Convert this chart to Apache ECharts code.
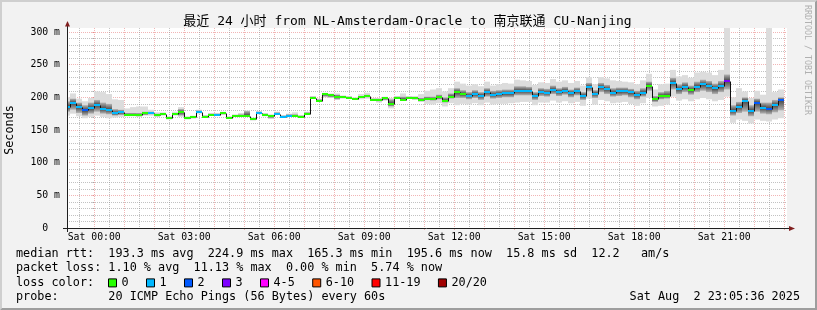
<!DOCTYPE html>
<html><head><meta charset="utf-8">
<script src="https://cdn.jsdelivr.net/npm/echarts@6/dist/echarts.min.js"></script>
<style>html,body{margin:0;padding:0;background:#f2f2f2}#c{width:817px;height:310px}</style>
</head><body><div id="c"></div>
<script>
// ---------- data (12-minute consolidated steps, first step starts 23:00 on the previous day) ----------
const lossNames = ['0', '1', '2', '3', '4-5', '6-10', '11-19', '20/20'];
const lossColors = ['#26ff00', '#00b8ff', '#0059ff', '#7e00ff', '#ff00ff', '#ff5500', '#ff0000', '#a10000'];
const xLabelHours = [0, 3, 6, 9, 12, 15, 18, 21];
const majorGridHours = [0,1,2,3,4,5,6,7,8,9,10,11,12,13,14,15,16,17,18,19,20,21,22,23];
const minorGridHours = [-0.5,0.5,1.5,2.5,3.5,4.5,5.5,6.5,7.5,8.5,9.5,10.5,11.5,12.5,13.5,14.5,15.5,16.5,17.5,18.5,19.5,20.5,21.5,22.5];
const yTickLabels = ['0  ', '50 m', '100 m', '150 m', '200 m', '250 m', '300 m'];

const median = [185.5,191.5,185.5,180,183.5,188.5,182.5,181,175.5,177,
173.5,173.5,172.5,175.5,175.5,172.5,174.5,168,174,177.5,
168,169.5,178,170.5,173.5,173.5,175.5,169,172,172,
172,166.5,176.5,173,172,175,170.5,172,172,170.5,
175,199.5,195,205,203.5,201,200.5,199.5,197.5,200.5,
202.5,196.5,196.5,198.5,190,199.5,196.5,199.5,198.5,196,
198,197,200,195,201,208,205,202.5,205,202.5,
208,204,205,206,206,210,210,210,202.5,208.5,
207,211.8,208.7,210.2,206.6,209.2,202.6,216.3,205.6,215.8,
212.8,207.2,209.2,209.2,207.7,203.6,207.2,217.9,197,202.6,
202.6,222.5,212.8,216.4,211.3,216.4,220,217.4,213.8,217.4,
225.5,179.6,185.7,195,179.6,192,184.2,182.7,188.3,196];

const loss = [1,1,1,2,1,1,1,1,1,1,
0,0,0,0,1,0,0,0,0,0,
0,0,1,0,0,1,0,0,0,0,
0,0,1,0,0,1,1,1,0,0,
0,0,0,0,0,0,0,0,0,0,
0,0,0,0,0,0,0,0,0,0,
0,0,0,0,0,0,0,1,1,1,
1,1,1,1,1,1,1,1,1,1,
1,1,1,1,1,1,1,1,1,1,
1,1,1,1,1,1,1,0,0,0,
0,1,1,1,0,1,1,1,1,1,
3,1,1,1,1,2,1,2,1,2];

const smokeMin = [172,175,171,168,170,172,170,168,169,170,
171,171,170,172,172,170,172,166,172,170,
166,168,175,169,172,172,173,167,170,170,
170,165,174,171,167,173,169,170,170,169,
173,198,193,200,199,196,198,198,196,197,
198,195,192,195,183,198,195,198,196,193,
190,189,191,186,191,188,190,189,191,188,
192,189,190,190,191,192,193,193,188,192,
192,195,192,194,191,193,187,198,189,196,
194,191,192,193,190,187,191,199,186,187,
189,201,195,197,194,197,199,197,194,196,
201,161,166,164,160,166,164,163,166,168];

const smokeLo = [178,181,176,172,175,178,175,174,172,173,
172,172,171,173,174,171,173,167,173,172,
167,168,176,169,172,172,174,168,171,171,
171,165,175,172,168,174,169,171,171,169,
174,198,194,201,200,197,199,198,196,199,
200,195,194,196,186,198,195,198,197,194,
196,195,197,192,198,199,199,197,199,196,
201,198,199,200,200,203,203,203,196,202,
201,205,202,204,200,203,196,209,199,208,
205,201,202,203,200,197,201,210,193,197,
198,212,205,208,204,208,210,208,205,208,
212,172,176,178,171,178,175,174,177,180];

const smokeHi = [194,198,192,188,192,196,192,190,182,181,
176,176,176,178,178,175,176,170,176,182,
170,171,180,172,175,175,177,170,173,174,
179,168,178,175,173,177,172,174,174,172,
177,201,197,206,205,204,202,201,199,202,
204,198,198,200,197,201,201,201,200,199,
201,201,204,200,206,214,211,208,211,208,
214,210,211,212,212,217,217,216,208,214,
213,218,214,216,212,215,208,222,211,222,
219,214,215,215,213,210,214,224,202,208,
210,230,220,223,218,224,227,225,221,225,
235,188,193,200,188,198,192,192,196,200];

const smokeMax = [200,206,198,194,199,209,208,205,197,196,
183,185,186,186,181,177,177,171,178,185,
171,172,181,173,176,176,178,171,174,176,
180,169,179,176,174,178,173,175,177,173,
178,202,198,207,206,206,203,202,200,205,
207,199,199,201,199,202,206,202,202,205,
210,212,214,209,214,224,221,218,220,217,
224,218,220,222,221,227,226,225,219,223,
222,228,224,226,222,225,218,231,220,231,
229,226,225,224,223,220,226,236,212,220,
221,242,232,234,230,238,239,238,234,242,
306,200,214,209,199,210,204,306,208,212];

const statLines = [
  'median rtt:  193.3 ms avg  224.9 ms max  165.3 ms min  195.6 ms now  15.8 ms sd  12.2   am/s',
  'packet loss: 1.10 % avg  11.13 % max  0.00 % min  5.74 % now',
  'loss color:',
  'probe:       20 ICMP Echo Pings (56 Bytes) every 60s'
];
const titleText = '最近 24 小时 from NL-Amsterdam-Oracle to 南京联通 CU-Nanjing';
const dateText = 'Sat Aug  2 23:05:36 2025';
const watermark = 'RRDTOOL / TOBI OETIKER';

// ---------- layout / style ----------
const MONO = '"DejaVu Sans Mono", "Noto Sans CJK SC", monospace';
const GL = 67, GT = 32, GW = 720, GH = 196;
const CANVAS_TOP_VALUE = 306.1;
const X_MIN = -(54 + 24 / 60) / 60;          // 23:05:36 previous day
const X_MAX = 23 + (5 + 36 / 60) / 60;       // 23:05:36
const STEP_H = 12 / 60;
const FIRST_STEP_H = -1;
const GRID_COL = 'rgba(143,143,143,0.55)';
const MGRID_COL = 'rgba(222,79,79,0.42)';
const AXIS_COL = '#1f1f1f';
const ARROW_COL = '#801f1f';

function stepStart(i) { return FIRST_STEP_H + i * STEP_H; }
function pad2(n) { return (n < 10 ? '0' : '') + n; }

function xSpan(api, cs, t) {
  let xa = Math.round(api.coord([t, 0])[0]);
  let xb = Math.round(api.coord([t + STEP_H, 0])[0]);
  xa = Math.max(xa, cs.x); xb = Math.min(xb, cs.x + cs.width);
  return [xa, xb];
}

const smokeData = median.map((m, i) => [stepStart(i), smokeMin[i], smokeLo[i], smokeHi[i], smokeMax[i], m]);
const stepData = median.map((m, i) => [stepStart(i), m, i + 1 < median.length ? median[i + 1] : m]);

function renderSmoke(params, api) {
  const cs = params.coordSys;
  const t = api.value(0);
  const [xa, xb] = xSpan(api, cs, t);
  if (xb <= xa) return null;
  const yMin = api.coord([t, api.value(1)])[1];
  const yLo = api.coord([t, api.value(2)])[1];
  const yHi = api.coord([t, api.value(3)])[1];
  const yMax = api.coord([t, api.value(4)])[1];
  const yMed = api.coord([t, api.value(5)])[1];
  const children = [{ type: 'rect', shape: { x: xa, y: yMax, width: xb - xa, height: yMin - yMax }, style: { fill: '#dcdcdc' } }];
  const h = yLo - yHi;
  if (h > 0.5) {
    const off = Math.min(1, Math.max(0, (yMed - yHi) / h));
    children.push({ type: 'rect', shape: { x: xa, y: yHi, width: xb - xa, height: h },
      style: { fill: new echarts.graphic.LinearGradient(0, 0, 0, 1, [
        { offset: 0, color: '#b4b4b4' }, { offset: off, color: '#444444' }, { offset: 1, color: '#b4b4b4' }]) } });
  }
  return { type: 'group', children };
}

function renderStep(params, api) {
  const cs = params.coordSys;
  const t = api.value(0);
  const [xa, xb] = xSpan(api, cs, t);
  if (xb <= xa) return null;
  const y0 = Math.round(api.coord([t, api.value(1)])[1]) + 0.5;
  const y1 = Math.round(api.coord([t, api.value(2)])[1]) + 0.5;
  const st = { stroke: '#111', lineWidth: 1 };
  const children = [{ type: 'line', shape: { x1: xa, y1: y0, x2: xb, y2: y0 }, style: st }];
  if (xb < cs.x + cs.width) children.push({ type: 'line', shape: { x1: xb + 0.5, y1: y0, x2: xb + 0.5, y2: y1 }, style: st });
  return { type: 'group', children };
}

function renderLossSeg(color) {
  return function (params, api) {
    const cs = params.coordSys;
    const t = api.value(0);
    const [xa, xb] = xSpan(api, cs, t);
    if (xb <= xa) return null;
    const y = Math.round(api.coord([t, api.value(1)])[1]);
    return { type: 'rect', shape: { x: xa, y: y - 1, width: xb - xa, height: 2 }, style: { fill: color } };
  };
}

function renderVGrid(color) {
  return function (params, api) {
    const cs = params.coordSys;
    const x = Math.round(api.coord([api.value(0), 0])[0]) + 0.5;
    const yTop = api.coord([0, CANVAS_TOP_VALUE])[1];
    return { type: 'line', shape: { x1: x, y1: Math.round(yTop), x2: x, y2: cs.y + cs.height },
      style: { stroke: color, lineWidth: 1, lineDash: [1, 1] } };
  };
}

const series = [
  { type: 'custom', name: 'minorgrid', data: minorGridHours.map(h => [h]), renderItem: renderVGrid(GRID_COL), z: 1, silent: true, clip: false, encode: { x: 0 } },
  { type: 'custom', name: 'majorgrid', data: majorGridHours.map(h => [h]), renderItem: renderVGrid(MGRID_COL), z: 1, silent: true, clip: false, encode: { x: 0 } },
  { type: 'custom', name: 'smoke', data: smokeData, renderItem: renderSmoke, z: 2, silent: true, clip: false, encode: { x: 0, y: [1, 4] } },
  { type: 'custom', name: 'median', data: stepData, renderItem: renderStep, z: 3, silent: true, clip: false, encode: { x: 0, y: 1 } }
];
lossNames.forEach((nm, k) => {
  const d = [];
  median.forEach((m, i) => { if (loss[i] === k) d.push([stepStart(i), m]); });
  series.push({ type: 'custom', name: nm, data: d, renderItem: renderLossSeg(lossColors[k]), z: 4, silent: true, clip: false,
    itemStyle: { color: lossColors[k] }, encode: { x: 0, y: 1 } });
});

const chart = echarts.init(document.getElementById('c'), null, { renderer: 'canvas', width: 817, height: 310 });

const graphic = [
  // white canvas
  { type: 'rect', z: -5, shape: { x: GL, y: 28, width: GW, height: 228 - 28 }, style: { fill: '#ffffff' } },
  // 3D border
  { type: 'polygon', z: -5, shape: { points: [[0, 310], [2, 308], [2, 2], [815, 2], [817, 0], [0, 0]] }, style: { fill: '#cfcfcf' } },
  { type: 'polygon', z: -5, shape: { points: [[2, 308], [815, 308], [815, 2], [817, 0], [817, 310], [0, 310]] }, style: { fill: '#9e9e9e' } },
  // axis extensions and arrows
  { type: 'line', z: 10, shape: { x1: GL + 0.5, y1: 24, x2: GL + 0.5, y2: 232 }, style: { stroke: AXIS_COL, lineWidth: 1 } },
  { type: 'line', z: 10, shape: { x1: 63, y1: 228.5, x2: 790, y2: 228.5 }, style: { stroke: AXIS_COL, lineWidth: 1 } },
  { type: 'polygon', z: 11, shape: { points: [[65, 26.5], [70, 26.5], [67.5, 21]] }, style: { fill: ARROW_COL } },
  { type: 'polygon', z: 11, shape: { points: [[789, 226], [789, 231], [795, 228.5]] }, style: { fill: ARROW_COL } },
  // texts
  { type: 'text', x: 407.5, y: 21.5, style: { text: titleText, font: '13px ' + MONO, fill: '#000', align: 'center', verticalAlign: 'middle' } },
  { type: 'text', x: 16, y: 254, style: { text: statLines[0], font: '11.8px ' + MONO, fill: '#000', verticalAlign: 'middle' } },
  { type: 'text', x: 16, y: 268, style: { text: statLines[1], font: '11.8px ' + MONO, fill: '#000', verticalAlign: 'middle' } },
  { type: 'text', x: 16, y: 283, style: { text: statLines[2], font: '11.8px ' + MONO, fill: '#000', verticalAlign: 'middle' } },
  { type: 'text', x: 16, y: 297, style: { text: statLines[3], font: '11.8px ' + MONO, fill: '#000', verticalAlign: 'middle' } },
  { type: 'text', x: 800, y: 297, style: { text: dateText, font: '11.8px ' + MONO, fill: '#000', align: 'right', verticalAlign: 'middle' } },
  { type: 'text', x: 807, y: 5, rotation: -Math.PI / 2, style: { text: watermark, font: '8.3px ' + MONO, fill: '#b0b0b0', align: 'left', verticalAlign: 'middle' } }
];

chart.setOption({
  animation: false,
  backgroundColor: '#f2f2f2',
  grid: { left: GL, top: GT, width: GW, height: GH, containLabel: false, outerBoundsMode: 'none' },
  legend: {
    data: lossNames, left: 108, top: 277, padding: 0, itemGap: 17.4, itemWidth: 8, itemHeight: 8, icon: 'rect',
    selectedMode: false, itemStyle: { borderColor: '#000', borderWidth: 1 },
    textStyle: { fontFamily: MONO, fontSize: 11.8, color: '#000' }
  },
  xAxis: {
    type: 'value', min: X_MIN, max: X_MAX,
    axisLine: { show: false },
    axisTick: { show: true, customValues: majorGridHours, length: 2, lineStyle: { color: MGRID_COL } },
    axisLabel: { customValues: xLabelHours, formatter: v => 'Sat ' + pad2(Math.round(v)) + ':00',
      fontFamily: MONO, fontSize: 9.8, color: '#000', margin: 5 },
    splitLine: { show: false }
  },
  yAxis: {
    type: 'value', min: 0, max: 300, interval: 50,
    name: 'Seconds', nameLocation: 'middle', nameGap: 51, nameRotate: 90,
    nameTextStyle: { fontFamily: MONO, fontSize: 11.8, color: '#000' },
    axisLine: { show: false },
    axisTick: { show: true, length: 2, lineStyle: { color: MGRID_COL } },
    minorTick: { show: true, splitNumber: 5, length: 2, lineStyle: { color: GRID_COL } },
    axisLabel: { formatter: v => yTickLabels[Math.round(v / 50)], fontFamily: MONO, fontSize: 9.8, color: '#000', margin: 7 },
    splitLine: { show: true, lineStyle: { color: MGRID_COL, type: [1, 1] } },
    minorSplitLine: { show: true, lineStyle: { color: GRID_COL, type: [1, 1] } }
  },
  graphic: graphic,
  series: series
});
</script></body></html>
